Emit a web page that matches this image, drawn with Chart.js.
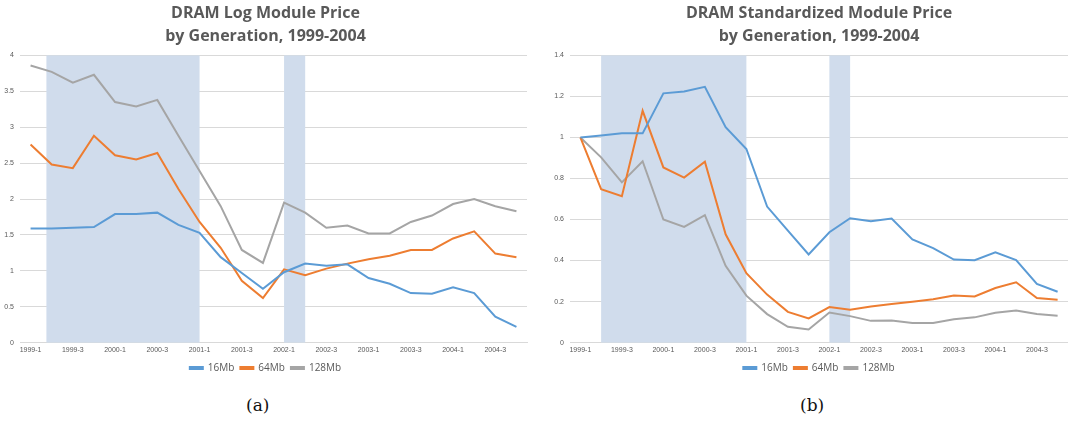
<!DOCTYPE html>
<html>
<head>
<meta charset="utf-8">
<script src="https://cdn.jsdelivr.net/npm/chart.js@4/dist/chart.umd.min.js"></script>
<style>
  html, body { margin: 0; padding: 0; background: #fff; overflow: hidden; }
  body { width: 1068px; height: 421px; position: relative; }
  .box { position: absolute; top: 0; height: 383px; }
  .cap { position: absolute; top: 395px; font: 17px "DejaVu Serif", "Liberation Serif", serif; color: #111; }
</style>
</head>
<body>
<div class="box" style="left:0;width:534px"><canvas id="logChart"></canvas></div>
<div class="box" style="left:540px;width:528px"><canvas id="stdChart"></canvas></div>
<div class="cap" style="left:246px">(a)</div>
<div class="cap" style="left:800px">(b)</div>
<script>
const quarters = ['1999-1','1999-2','1999-3','1999-4','2000-1','2000-2','2000-3','2000-4',
  '2001-1','2001-2','2001-3','2001-4','2002-1','2002-2','2002-3','2002-4',
  '2003-1','2003-2','2003-3','2003-4','2004-1','2004-2','2004-3','2004-4'];

// (a) log module price
const log16 = [1.59, 1.59, 1.60, 1.61, 1.79, 1.79, 1.81, 1.64, 1.53, 1.19, 0.97, 0.75,
  0.98, 1.10, 1.07, 1.09, 0.90, 0.82, 0.69, 0.68, 0.77, 0.69, 0.36, 0.22];
const log64 = [2.76, 2.48, 2.43, 2.88, 2.61, 2.55, 2.64, 2.14, 1.68, 1.32, 0.86, 0.62,
  1.02, 0.94, 1.03, 1.10, 1.16, 1.21, 1.29, 1.29, 1.45, 1.55, 1.24, 1.19];
const log128 = [3.86, 3.77, 3.62, 3.73, 3.35, 3.29, 3.38, 2.88, 2.39, 1.90, 1.29, 1.11,
  1.95, 1.81, 1.60, 1.63, 1.52, 1.52, 1.68, 1.77, 1.93, 2.00, 1.90, 1.83];

// (b) standardized module price
const std16 = [1.00, 1.01, 1.02, 1.02, 1.215, 1.224, 1.247, 1.05, 0.944, 0.663, 0.546, 0.43,
  0.538, 0.606, 0.591, 0.605, 0.503, 0.461, 0.405, 0.402, 0.44, 0.402, 0.286, 0.248];
const std64 = [1.00, 0.748, 0.714, 1.13, 0.854, 0.804, 0.882, 0.528, 0.338, 0.234, 0.150, 0.118,
  0.173, 0.160, 0.176, 0.188, 0.199, 0.211, 0.229, 0.225, 0.266, 0.294, 0.217, 0.209];
const std128 = [1.00, 0.903, 0.781, 0.884, 0.600, 0.564, 0.621, 0.374, 0.229, 0.139, 0.077, 0.064,
  0.147, 0.129, 0.106, 0.108, 0.096, 0.096, 0.114, 0.123, 0.145, 0.157, 0.139, 0.131];

const seriesNames = ['16Mb', '64Mb', '128Mb'];
const yTicksA = [0, 0.5, 1, 1.5, 2, 2.5, 3, 3.5, 4];
const yTicksB = [0, 0.2, 0.4, 0.6, 0.8, 1, 1.2, 1.4];

// shaded periods, as category index ranges
const bandsA = [[0.75, 8], [12, 13]];
const bandsB = [[1, 8], [12, 13]];

const colors = ['#5b9bd5', '#ed7d31', '#a5a5a5'];
const textColor = '#595959';

const bandPlugin = {
  id: 'bands',
  beforeDatasetsDraw(chart, args, opts) {
    const { ctx, chartArea } = chart;
    const x = chart.scales.x;
    ctx.save();
    ctx.fillStyle = 'rgb(208,220,236)';
    opts.ranges.forEach(r => {
      const x0 = x.getPixelForValue(r[0]);
      const x1 = x.getPixelForValue(r[1]);
      ctx.fillRect(x0, chartArea.top, x1 - x0, chartArea.bottom - chartArea.top);
    });
    ctx.restore();
  }
};

function makeChart(id, titleLines, data, yTicks, bands, pad, axisWidth, full) {
  new Chart(document.getElementById(id), {
    type: 'line',
    data: {
      labels: quarters,
      datasets: data.map((d, i) => ({
        label: seriesNames[i],
        data: d,
        borderColor: colors[i],
        backgroundColor: colors[i],
        borderWidth: 2,
        pointRadius: 0,
        tension: 0
      }))
    },
    plugins: [bandPlugin],
    options: {
      responsive: true,
      maintainAspectRatio: false,
      animation: false,
      layout: { padding: pad },
      plugins: {
        bands: { ranges: bands },
        title: {
          display: true,
          fullSize: full,
          text: titleLines,
          color: textColor,
          font: { family: 'Open Sans', size: 16, weight: 'bold', lineHeight: 1.45 },
          padding: { top: 0, bottom: 7 }
        },
        legend: {
          position: 'bottom',
          fullSize: full,
          labels: {
            color: textColor,
            font: { family: 'Open Sans', size: 10 },
            boxWidth: 13,
            boxHeight: 2,
            padding: 6
          }
        },
        tooltip: { enabled: false }
      },
      scales: {
        x: {
          offset: true,
          grid: { display: false, drawTicks: false },
          border: { color: '#d9d9d9' },
          ticks: {
            autoSkip: false,
            maxRotation: 0,
            color: textColor,
            font: { family: 'Liberation Sans', size: 7 },
            padding: 3,
            callback: (v, i) => (i % 2 === 0 ? quarters[i] : '')
          }
        },
        y: {
          min: yTicks[0],
          max: yTicks[yTicks.length - 1],
          afterBuildTicks: axis => { axis.ticks = yTicks.map(v => ({ value: v })); },
          afterFit: axis => { axis.width = axisWidth; },
          grid: { color: '#d9d9d9', drawTicks: false },
          border: { display: false },
          ticks: {
            color: textColor,
            font: { family: 'Liberation Sans', size: 7 },
            padding: 6,
            callback: v => String(+v.toFixed(2))
          }
        }
      }
    }
  });
}

makeChart('logChart', ['DRAM Log Module Price', 'by Generation, 1999-2004'],
  [log16, log64, log128], yTicksA, bandsA, { left: 4, right: 7, top: 2, bottom: 0 }, 16, true);
makeChart('stdChart', ['DRAM Standardized Module Price', 'by Generation, 1999-2004'],
  [std16, std64, std128], yTicksB, bandsB, { left: 2, right: 0, top: 2, bottom: 0 }, 28, false);
</script>
</body>
</html>
